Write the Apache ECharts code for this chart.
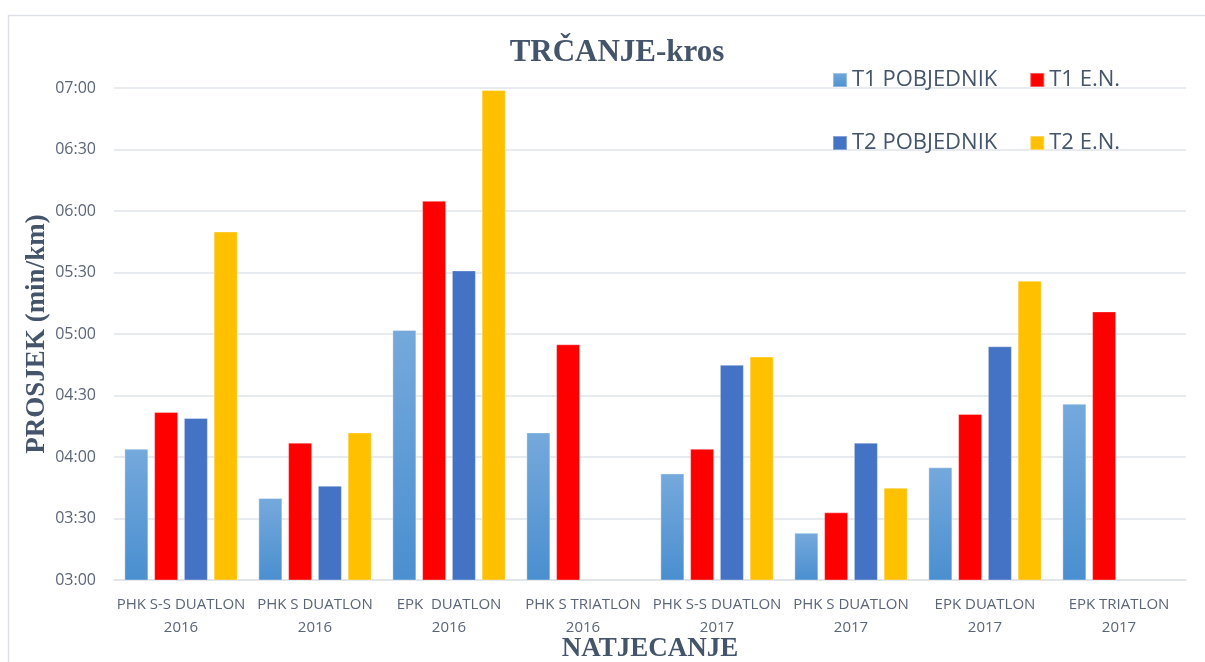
<!DOCTYPE html>
<html>
<head>
<meta charset="utf-8">
<script src="https://cdn.jsdelivr.net/npm/echarts@6/dist/echarts.min.js"></script>
<style>
html,body{margin:0;padding:0;background:#fff;overflow:hidden;}
#chart{width:1205px;height:662px;}
</style>
</head>
<body>
<div id="chart"></div>
<script>
// Data (values in seconds per km)
const categories = [
  'PHK S-S DUATLON\n2016', 'PHK S DUATLON\n2016', 'EPK  DUATLON\n2016', 'PHK S TRIATLON\n2016',
  'PHK S-S DUATLON\n2017', 'PHK S DUATLON\n2017', 'EPK DUATLON\n2017', 'EPK TRIATLON\n2017'
];
const seriesNames = ['T1 POBJEDNIK', 'T1 E.N.', 'T2 POBJEDNIK', 'T2 E.N.'];
const t1Pobjednik = [244, 220, 302, 252, 232, 203, 235, 266];
const t1EN        = [262, 247, 365, 295, 244, 213, 261, 311];
const t2Pobjednik = [259, 226, 331, null, 285, 247, 294, null];
const t2EN        = [350, 252, 419, null, 289, 225, 326, null];
const yMin = 180, yMax = 420, yStep = 30;

function fmt(v) {
  const m = Math.floor(v / 60), s = Math.round(v % 60);
  return String(m).padStart(2, '0') + ':' + String(s).padStart(2, '0');
}

const chart = echarts.init(document.getElementById('chart'), null, {renderer: 'canvas', width: 1205, height: 662});
const textColor = '#44546a';
const labelColor = '#5b6578';
const gridColor = '#dfe3e9';

const colors = [
  new echarts.graphic.LinearGradient(0, 0, 0, 1, [
    {offset: 0, color: '#75a9dc'}, {offset: 1, color: '#4a8fd0'}
  ]),
  '#ff0000', '#4472c4', '#ffc000'
];
const datas = [t1Pobjednik, t1EN, t2Pobjednik, t2EN];

chart.setOption({
  backgroundColor: '#ffffff',
  animation: false,
  title: {
    text: 'TRČANJE-kros',
    left: 612, top: 32, textAlign: 'center',
    textStyle: {fontFamily: 'Liberation Serif', fontWeight: 'bold', fontSize: 31, color: textColor}
  },
  graphic: [{
    type: 'rect', shape: {x: 8.5, y: 15.5, width: 1300, height: 800},
    style: {fill: 'none', stroke: '#dde1e7', lineWidth: 1.5}, silent: true
  }],
  legend: [
    {data: [seriesNames[0], seriesNames[1]], left: 827, top: 64, itemWidth: 14, itemHeight: 14, itemGap: 32,
     icon: 'rect', textStyle: {fontFamily: 'Open Sans', fontSize: 22, color: textColor}},
    {data: [seriesNames[2], seriesNames[3]], left: 827, top: 127, itemWidth: 14, itemHeight: 14, itemGap: 32,
     icon: 'rect', textStyle: {fontFamily: 'Open Sans', fontSize: 22, color: textColor}}
  ],
  grid: {left: 114, right: 19, top: 88, height: 492, containLabel: false, outerBoundsMode: 'none'},
  xAxis: {
    type: 'category', data: categories,
    name: 'NATJECANJE', nameLocation: 'middle', nameGap: 56, nameMoveOverlap: false,
    nameTextStyle: {fontFamily: 'Liberation Serif', fontWeight: 'bold', fontSize: 27, color: textColor},
    axisLine: {lineStyle: {color: gridColor, width: 1.5}},
    axisTick: {show: false},
    axisLabel: {margin: 13, fontFamily: 'Open Sans', fontSize: 15, lineHeight: 23, color: labelColor, interval: 0}
  },
  yAxis: {
    type: 'value', min: yMin, max: yMax, interval: yStep,
    name: 'PROSJEK (min/km)', nameLocation: 'middle', nameGap: 63, nameRotate: 90, nameMoveOverlap: false,
    nameTextStyle: {fontFamily: 'Liberation Serif', fontWeight: 'bold', fontSize: 27, color: textColor},
    axisLine: {show: false}, axisTick: {show: false},
    splitLine: {lineStyle: {color: gridColor, width: 1.5}},
    axisLabel: {margin: 18, fontFamily: 'Open Sans', fontSize: 16, color: labelColor, formatter: fmt}
  },
  series: seriesNames.map((n, i) => ({
    name: n, type: 'bar', data: datas[i], barWidth: 24, barGap: '24%',
    itemStyle: {color: colors[i], borderColor: 'rgba(255,255,255,0.35)', borderWidth: 1}
  }))
});
</script>
</body>
</html>
